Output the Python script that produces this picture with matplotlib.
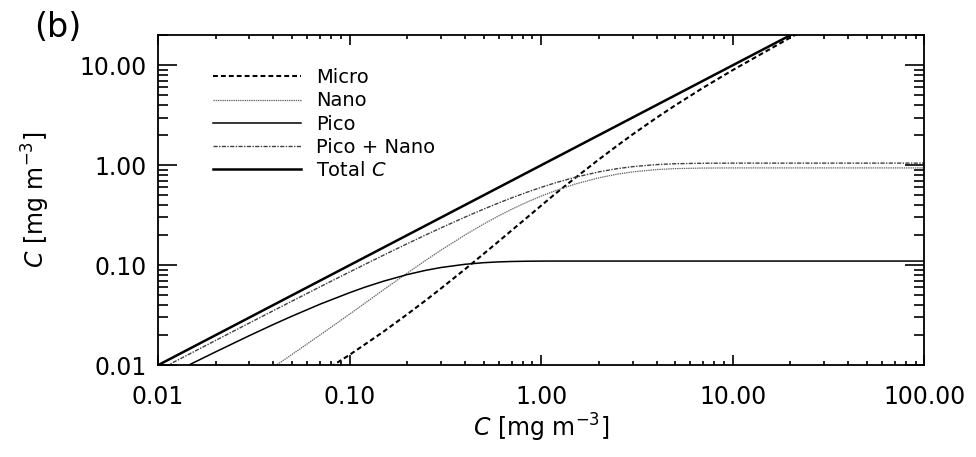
import numpy as np
import matplotlib.pyplot as plt

plt.rcParams['font.family'] = ['DejaVu Sans']
plt.rcParams['mathtext.fontset'] = 'dejavusans'
plt.rcParams['lines.scale_dashes'] = False

# total chlorophyll C [mg m^-3]
chl = [0.01, 0.015, 0.02, 0.03, 0.04, 0.05, 0.07, 0.1, 0.12, 0.15, 0.2, 0.25,
       0.3, 0.4, 0.5, 0.6, 0.7, 0.85, 1.0, 1.2, 1.5, 2.0, 2.5, 3.0, 4.0, 5.0,
       7.0, 10.0, 20.0, 30.0, 50.0, 100.0]
# size class chlorophyll
micro = [0.00098, 0.00149, 0.00202, 0.00314, 0.00431, 0.00555, 0.00823,
         0.0127, 0.0161, 0.0216, 0.0323, 0.0446, 0.0586, 0.0911, 0.1296,
         0.1733, 0.2223, 0.3036, 0.3948, 0.5286, 0.743, 1.142, 1.575, 2.032,
         2.985, 3.965, 5.953, 8.95, 18.95, 28.95, 48.95, 98.95]
nano = [0.00186, 0.00293, 0.0041, 0.00668, 0.00957, 0.0128, 0.02, 0.0324,
        0.0416, 0.0566, 0.0835, 0.1121, 0.1415, 0.2005, 0.2576, 0.3116, 0.362,
        0.4306, 0.491, 0.5614, 0.647, 0.748, 0.8146, 0.858, 0.9049, 0.925,
        0.937, 0.94, 0.94, 0.94, 0.94, 0.94]
pico = [0.00703, 0.01037, 0.0136, 0.01976, 0.02553, 0.0309, 0.0407, 0.0531,
        0.0602, 0.0691, 0.0806, 0.0889, 0.0948, 0.1021, 0.1059, 0.1079,
        0.1089, 0.1096, 0.1099, 0.11, 0.11, 0.11, 0.11, 0.11, 0.11, 0.11,
        0.11, 0.11, 0.11, 0.11, 0.11, 0.11]
pico_nano = [0.00889, 0.0133, 0.0177, 0.02644, 0.0351, 0.0437, 0.0607, 0.0856,
             0.1018, 0.1257, 0.1642, 0.201, 0.2363, 0.3026, 0.3635, 0.4195,
             0.4709, 0.5402, 0.6012, 0.6714, 0.7566, 0.8582, 0.9246, 0.968,
             1.0149, 1.035, 1.047, 1.0498, 1.05, 1.05, 1.05, 1.05]

xticks = [0.01, 0.1, 1, 10, 100]
yticks = [0.01, 0.1, 1, 10]

fig = plt.figure(figsize=(9.76, 4.57), dpi=100)
ax = fig.add_axes([0.162, 0.201, 0.785, 0.722])

ax.plot(chl, micro, color='k', lw=1.5, dashes=(3.5, 2.2), label='Micro')
ax.plot(chl, nano, color='0.4', lw=0.9, dashes=(1.0, 0.6), label='Nano')
ax.plot(chl, pico, color='k', lw=1.1, label='Pico')
ax.plot(chl, pico_nano, color='0.25', lw=1.0, dashes=(3.0, 1.0, 1.0, 1.0),
        label='Pico + Nano')
ax.plot(chl, chl, color='k', lw=1.8, label=r'Total $\mathit{C}$')

ax.set_xscale('log')
ax.set_yscale('log')
ax.set_xlim(0.01, 100)
ax.set_ylim(0.01, 20)
ax.set_xticks(xticks)
ax.set_yticks(yticks)
ax.set_xticklabels(['%.2f' % v for v in xticks])
ax.set_yticklabels(['%.2f' % v for v in yticks])

for s in ax.spines.values():
    s.set_linewidth(1.3)
ax.tick_params(which='both', direction='in', top=True, right=True,
               labelsize=17, width=1.2)
ax.tick_params(axis='x', which='major', length=7, pad=14)
ax.tick_params(axis='x', which='minor', length=3)
ax.tick_params(axis='y', which='major', length=14, pad=8)
ax.tick_params(axis='y', which='minor', length=7)

ax.set_xlabel(r'$\mathit{C}$ [mg m$^{-3}$]', fontsize=17, labelpad=2)
ax.set_ylabel(r'$\mathit{C}$ [mg m$^{-3}$]', fontsize=17, labelpad=20)

ax.legend(loc='upper left', bbox_to_anchor=(0.072, 0.9), frameon=False,
          fontsize=14, handlelength=4.5, handletextpad=0.8, labelspacing=0.22,
          borderpad=0, borderaxespad=0)

fig.text(0.035, 0.975, '(b)', fontsize=24, va='top', ha='left')

fig.savefig('out.png', dpi=100)
